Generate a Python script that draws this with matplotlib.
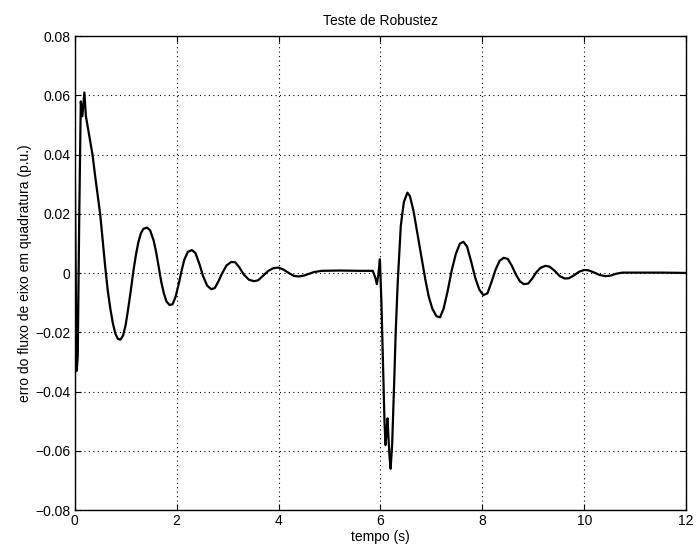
import matplotlib
matplotlib.use("Agg")
import matplotlib.pyplot as plt
from matplotlib.ticker import FuncFormatter

plt.rcParams['font.family'] = ['Liberation Sans', 'DejaVu Sans']

title = "Teste de Robustez"
xlabel = "tempo (s)"
ylabel = "erro do fluxo de eixo em quadratura (p.u.)"
xticks = [0, 2, 4, 6, 8, 10, 12]
yticks = [-0.08, -0.06, -0.04, -0.02, 0, 0.02, 0.04, 0.06, 0.08]

t = [0.00, 0.02, 0.04, 0.06, 0.09, 0.12, 0.15, 0.19, 0.22,
     0.30, 0.35, 0.40, 0.50, 0.60, 0.65, 0.70, 0.75, 0.80, 0.85, 0.90,
     0.95, 1.00, 1.05, 1.10, 1.15, 1.20, 1.25, 1.30, 1.35, 1.42, 1.48,
     1.55, 1.60, 1.65, 1.70, 1.75, 1.80, 1.86, 1.92, 1.98, 2.05, 2.10,
     2.15, 2.22, 2.30, 2.37, 2.45, 2.52, 2.60, 2.68, 2.75, 2.82, 2.90,
     2.98, 3.07, 3.15, 3.23, 3.32, 3.42, 3.52, 3.60, 3.70, 3.80, 3.90,
     4.00, 4.10, 4.20, 4.30, 4.40, 4.50, 4.60, 4.70, 4.85, 5.20, 5.60,
     5.85, 5.90, 5.93, 5.96, 5.99, 6.02, 6.05, 6.08, 6.10, 6.12, 6.14,
     6.16, 6.18, 6.20, 6.23, 6.27, 6.30, 6.34, 6.40, 6.46, 6.53, 6.58,
     6.65, 6.72, 6.80, 6.88, 6.95, 7.02, 7.10, 7.17, 7.24, 7.32, 7.40,
     7.48, 7.56, 7.63, 7.70, 7.78, 7.86, 7.94, 8.02, 8.10, 8.18, 8.26,
     8.34, 8.42, 8.50, 8.58, 8.66, 8.74, 8.82, 8.90, 8.98, 9.06, 9.14,
     9.24, 9.32, 9.42, 9.52, 9.62, 9.70, 9.80, 9.90, 10.00, 10.08, 10.20,
     10.30, 10.42, 10.52, 10.62, 10.75, 11.00, 11.50, 12.00]

erro = [0.040, 0.000, -0.033, -0.028, 0.020, 0.058, 0.053, 0.061, 0.053,
        0.045, 0.040, 0.033, 0.020, 0.002, -0.006, -0.012, -0.017, -0.0205, -0.0222, -0.0224,
        -0.021, -0.0175, -0.012, -0.006, 0.0005, 0.006, 0.0105, 0.0135, 0.0150, 0.0154, 0.0145,
        0.011, 0.007, 0.002, -0.003, -0.0068, -0.0095, -0.0107, -0.0105, -0.008, -0.003, 0.001,
        0.0045, 0.0072, 0.0078, 0.0068, 0.003, -0.001, -0.0042, -0.0054, -0.0050, -0.0028, 0.0002,
        0.0026, 0.0038, 0.0037, 0.002, -0.0005, -0.0022, -0.0027, -0.0024, -0.0008, 0.0008, 0.0017,
        0.0019, 0.0012, 0.0001, -0.0009, -0.0011, -0.0008, -0.0002, 0.0004, 0.0008, 0.0009, 0.0008,
        0.0008, -0.0015, -0.0037, -0.0005, 0.0047, -0.010, -0.030, -0.050, -0.058, -0.054, -0.049,
        -0.056, -0.062, -0.066, -0.058, -0.037, -0.020, -0.003, 0.016, 0.024, 0.0272, 0.026,
        0.021, 0.014, 0.006, -0.002, -0.008, -0.012, -0.0145, -0.0149, -0.012, -0.006, 0.001,
        0.0065, 0.0100, 0.0106, 0.009, 0.004, -0.0015, -0.0055, -0.0074, -0.0068, -0.003, 0.0012,
        0.0042, 0.0052, 0.0048, 0.0025, -0.0005, -0.0028, -0.0037, -0.0035, -0.0018, 0.0003, 0.0018,
        0.0025, 0.0022, 0.0008, -0.0010, -0.0018, -0.0017, -0.0007, 0.0005, 0.0011, 0.0010, 0.0002,
        -0.0006, -0.0010, -0.0008, -0.0002, 0.0002, 0.0002, 0.0002, 0.0001]

fig = plt.figure(figsize=(6.98, 5.57), dpi=100)
ax = fig.add_axes([0.107, 0.084, 0.876, 0.851])
ax.plot(t, erro, color='black', linewidth=1.6)
ax.set_xlim(0, 12)
ax.set_ylim(-0.08, 0.08)
ax.set_xticks(xticks)
ax.set_yticks(yticks)

def yfmt(v, pos):
    if abs(v) < 1e-12:
        return "0"
    return ("%.2f" % v).replace("-", "\u2212")

ax.yaxis.set_major_formatter(FuncFormatter(yfmt))
ax.grid(True, color='black', linestyle=(0, (1, 3)), linewidth=0.8)
ax.tick_params(direction='in', top=True, right=True, length=4, width=0.8,
               labelsize=10, pad=3)
for s in ax.spines.values():
    s.set_linewidth(1.0)
ax.set_title(title, fontsize=10, pad=8)
ax.set_xlabel(xlabel, fontsize=10, labelpad=1)
ax.set_ylabel(ylabel, fontsize=10, labelpad=2)
fig.savefig("out.png", dpi=100)
